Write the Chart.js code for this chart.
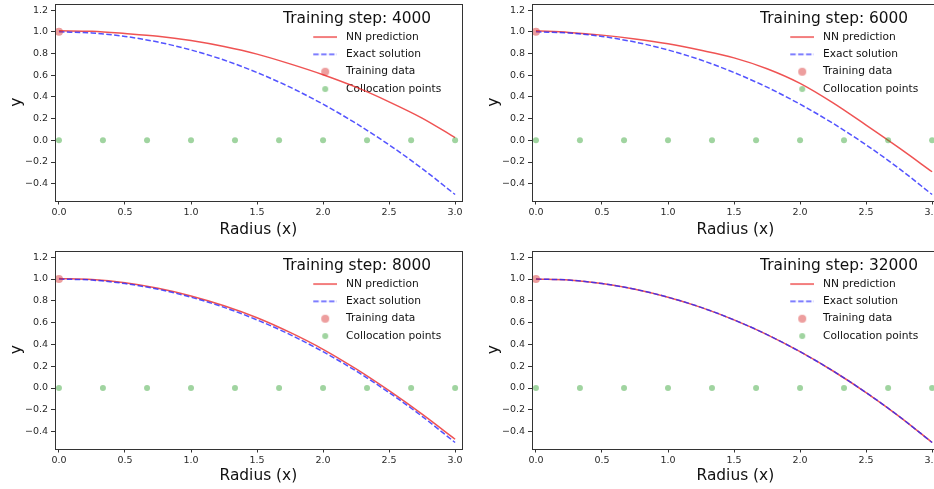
<!DOCTYPE html>
<html>
<head>
<meta charset="utf-8">
<script src="https://cdn.jsdelivr.net/npm/chart.js@4.4.0/dist/chart.umd.min.js"></script>
<style>
    html, body { margin: 0; padding: 0; background: #fff; width: 934px; height: 489px; overflow: hidden; }
    .panel { position: absolute; width: 470px; height: 245px; }
</style>
</head>
<body>
<div class="panel" style="left:0px;top:0px"><canvas id="step4000" width="470" height="245"></canvas></div>
<div class="panel" style="left:477px;top:0px"><canvas id="step6000" width="470" height="245"></canvas></div>
<div class="panel" style="left:0px;top:246px"><canvas id="step8000" width="470" height="245"></canvas></div>
<div class="panel" style="left:477px;top:246px"><canvas id="step32000" width="470" height="245"></canvas></div>

<script>
// values
const radius = [0, 0.25, 0.5, 0.75, 1.0, 1.25, 1.5, 1.75, 2.0, 2.25, 2.5, 2.75, 3.0];
const exactSolution = [1.0, 0.99, 0.958, 0.906, 0.833, 0.74, 0.625, 0.49, 0.333, 0.156, -0.042, -0.26, -0.5];
const nn4000 = [1.01, 1.005, 0.985, 0.96, 0.92, 0.865, 0.795, 0.705, 0.605, 0.49, 0.355, 0.205, 0.025];
const nn6000 = [1.01, 0.995, 0.97, 0.935, 0.89, 0.83, 0.76, 0.66, 0.525, 0.345, 0.14, -0.07, -0.29];
const nn8000 = [1.005, 0.995, 0.965, 0.915, 0.845, 0.755, 0.645, 0.51, 0.355, 0.175, -0.025, -0.24, -0.47];
const nn32000 = [1.0, 0.99, 0.958, 0.906, 0.833, 0.74, 0.625, 0.49, 0.333, 0.156, -0.042, -0.26, -0.5];

const trainX = [0];
const trainY = [1.0];
const collocX = [0, 0.333, 0.667, 1.0, 1.333, 1.667, 2.0, 2.333, 2.667, 3.0];
const collocY = [0, 0, 0, 0, 0, 0, 0, 0, 0, 0];

const steps = [4000, 6000, 8000, 32000];
const xTicks = [0, 0.5, 1.0, 1.5, 2.0, 2.5, 3.0];
const yTicks = [-0.4, -0.2, 0, 0.2, 0.4, 0.6, 0.8, 1.0, 1.2];

const FONT = "'DejaVu Sans', sans-serif";
const AREA_H = 197.5;

function pts(xs, ys) { return xs.map((x, i) => ({ x: x, y: ys[i] })); }
function fmt(v) { return (v < -1e-9 ? '\u2212' : '') + Math.abs(v).toFixed(1); }

// legend icons: 44px wide, the visible part sits in the right 24px
function lineIcon(color, dash) {
    const c = document.createElement('canvas'); c.width = 44; c.height = 4;
    const g = c.getContext('2d');
    g.strokeStyle = color; g.lineWidth = 1.5; g.setLineDash(dash);
    g.beginPath(); g.moveTo(20, 2); g.lineTo(44, 2); g.stroke();
    return c;
}
function dotIcon(color, r) {
    const c = document.createElement('canvas'); c.width = 44; c.height = 10;
    const g = c.getContext('2d');
    g.fillStyle = color; g.beginPath(); g.arc(32, 5, r, 0, Math.PI * 2); g.fill();
    return c;
}

const RED = 'rgba(235,40,40,0.8)';
const BLUE = 'rgba(40,40,255,0.8)';
const PINK = 'rgba(214,39,40,0.45)';
const GREEN = 'rgba(44,160,44,0.45)';
const icons = [lineIcon(RED, []), lineIcon(BLUE, [5.5, 2.4]), dotIcon(PINK, 4), dotIcon(GREEN, 3)];

// box around the axes + legend placed top right inside the plot
const framePlugin = {
    id: 'frame',
    afterLayout(chart) {
        const a = chart.chartArea, lg = chart.legend;
        lg.left = a.right - 178.7;
        lg.right = a.right;
        lg.width = lg.right - lg.left;
        lg.top = a.top; lg.bottom = a.bottom; lg.height = a.bottom - a.top;
    },
    afterDraw(chart) {
        const a = chart.chartArea, ctx = chart.ctx;
        ctx.save();
        ctx.strokeStyle = '#333'; ctx.lineWidth = 1;
        ctx.strokeRect(Math.round(a.left) + 0.5, Math.round(a.top) + 0.5, Math.round(a.right - a.left), Math.round(a.bottom - a.top));
        ctx.restore();
    }
};

function makeChart(id, step, nn, padTop) {
    return new Chart(document.getElementById(id), {
        type: 'scatter',
        data: {
            datasets: [
                { label: 'NN prediction', data: pts(radius, nn), showLine: true, borderColor: RED, borderWidth: 1.5,
                  pointRadius: 0, cubicInterpolationMode: 'monotone', order: 4 },
                { label: 'Exact solution', data: pts(radius, exactSolution), showLine: true, borderColor: BLUE, borderWidth: 1.5,
                  borderDash: [5.5, 2.4], pointRadius: 0, cubicInterpolationMode: 'monotone', order: 3 },
                { label: 'Training data', data: pts(trainX, trainY), pointRadius: 4, backgroundColor: PINK,
                  pointBorderWidth: 0, order: 2 },
                { label: 'Collocation points', data: pts(collocX, collocY), pointRadius: 3, backgroundColor: GREEN,
                  pointBorderWidth: 0, order: 1 }
            ]
        },
        options: {
            responsive: false,
            animation: false,
            events: [],
            layout: { padding: { left: 0, top: padTop, right: 8.3, bottom: 0 } },
            scales: {
                x: {
                    type: 'linear', min: -0.03, max: 3.05,
                    afterBuildTicks: s => { s.ticks = xTicks.map(v => ({ value: v })); },
                    afterFit: s => { s.height = 245 - padTop - AREA_H; s.paddingLeft = 0; s.paddingRight = 0; },
                    grid: { drawOnChartArea: false, drawTicks: true, tickLength: 4, color: '#333', tickColor: '#333' },
                    border: { display: false },
                    ticks: { font: { family: FONT, size: 9.5 }, color: '#2a2a2a', padding: 2, maxRotation: 0, autoSkip: false,
                             callback: v => fmt(v) },
                    title: { display: true, text: 'Radius (x)', color: '#111', font: { family: FONT, size: 15.4 },
                             padding: { top: 0, bottom: 5.5 } }
                },
                y: {
                    type: 'linear', min: -0.555, max: 1.257,
                    afterBuildTicks: s => { s.ticks = yTicks.map(v => ({ value: v })); },
                    afterFit: s => { s.width = 55; s.paddingTop = 0; s.paddingBottom = 0; },
                    grid: { drawOnChartArea: false, drawTicks: true, tickLength: 4, color: '#333', tickColor: '#333' },
                    border: { display: false },
                    ticks: { font: { family: FONT, size: 9.5 }, color: '#2a2a2a', padding: 3, autoSkip: false,
                             callback: v => fmt(v) },
                    title: { display: true, text: 'y', color: '#111', font: { family: FONT, size: 15.4 },
                             padding: { top: 8, bottom: 0 } }
                }
            },
            plugins: {
                tooltip: { enabled: false },
                legend: {
                    position: 'chartArea',
                    align: 'start',
                    title: { display: true, text: 'Training step: ' + step, position: 'start', color: '#111',
                             font: { family: FONT, size: 15.4, lineHeight: 1.2 }, padding: { top: 7.3, bottom: -4.8 } },
                    labels: {
                        usePointStyle: true, pointStyleWidth: 51, padding: 6.7, color: '#222',
                        font: { family: FONT, size: 10.65 },
                        generateLabels: chart => chart.data.datasets.map((ds, i) => ({
                            text: ds.label, pointStyle: icons[i], datasetIndex: i, hidden: false,
                            lineWidth: 0, fillStyle: 'transparent', strokeStyle: 'transparent'
                        }))
                    }
                }
            }
        },
        plugins: [framePlugin]
    });
}

makeChart('step4000', steps[0], nn4000, 3);
makeChart('step6000', steps[1], nn6000, 3);
makeChart('step8000', steps[2], nn8000, 5);
makeChart('step32000', steps[3], nn32000, 5);
</script>
</body>
</html>
